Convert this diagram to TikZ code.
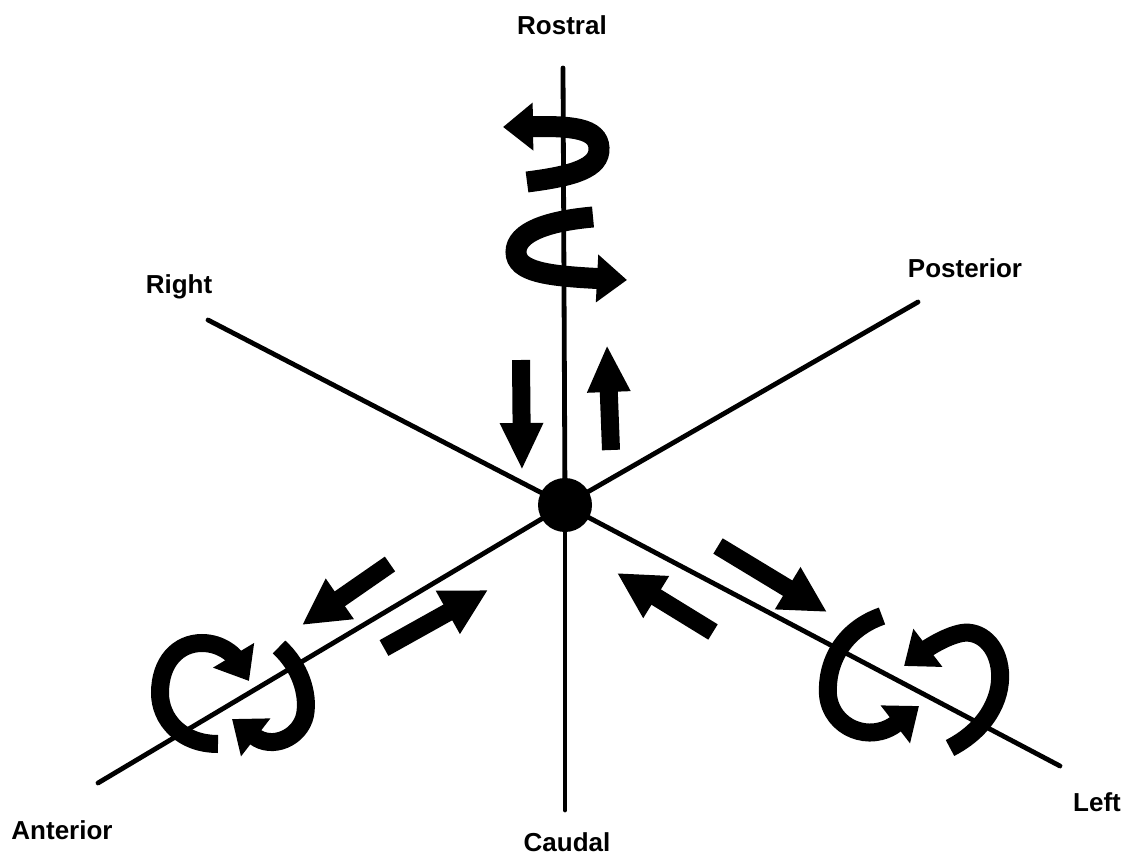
\documentclass[tikz,border=0pt]{standalone}
\usepackage{fontspec}
\setmainfont{Liberation Sans}
\usetikzlibrary{arrows.meta}
\begin{document}
\begin{tikzpicture}[x=1pt,y=-1pt,
  axis/.style={line width=4.8pt, line cap=round},
  lbl/.style={font=\fontsize{26}{30}\selectfont\bfseries, inner sep=0pt},
  vblock/.style={line width=18pt, -{Triangle[width=40pt,length=47pt]}},
  dblock/.style={line width=18pt, -{Triangle[width=46pt,length=46pt]}},
  twist/.style={line width=18pt, -{Triangle[width=46pt,length=30pt]}},
  spiral/.style={line width=21pt, -{Triangle[width=46pt,length=30pt]}},
  centerdot/.style={circle, fill=black, minimum size=54pt, inner sep=0pt},
]
\useasboundingbox[fill=white] (0,0) rectangle (1126,858);

% axis end points
\coordinate (rostralEnd) at (563,68);
\coordinate (caudalEnd) at (565,810);
\coordinate (rightEnd) at (208,320);
\coordinate (leftEnd) at (1060,766);
\coordinate (postEnd) at (918,302);
\coordinate (antEnd) at (98,783);

% centre
\node[centerdot] (O) at (565,505) {};

% axes
\draw[axis] (rostralEnd) -- (O.center);
\draw[axis] (O.center) -- (caudalEnd);
\draw[axis] (rightEnd) -- (O.center);
\draw[axis] (O.center) -- (leftEnd);
\draw[axis] (postEnd) -- (O.center);
\draw[axis] (O.center) -- (antEnd);

% labels
\node[lbl] (rostral) at (562,25) {Rostral};
\node[lbl] (caudal) at (567,842) {Caudal};
\node[lbl] (right) at (179,287) {Right};
\node[lbl] (posterior) at (965,268) {Posterior};
\node[lbl] (anterior) at (62,830) {Anterior};
\node[lbl] (left) at (1097,802) {Left};

% straight translation arrows
\coordinate (dT) at (521,360); \coordinate (dH) at (522,470);
\coordinate (uT) at (611,450); \coordinate (uH) at (607,345);
\coordinate (alT) at (390,564); \coordinate (alH) at (302,625);
\coordinate (arT) at (384,648); \coordinate (arH) at (488,590);
\coordinate (blT) at (713,632); \coordinate (blH) at (617,573);
\coordinate (brT) at (718,546); \coordinate (brH) at (827,612);
\draw[vblock] (dT) -- (dH);
\draw[vblock] (uT) -- (uH);
\draw[dblock] (alT) -- (alH);
\draw[dblock] (arT) -- (arH);
\draw[dblock] (blT) -- (blH);
\draw[dblock] (brT) -- (brH);

% rostral spiral (rotation about the rostro-caudal axis)
\coordinate (s1a) at (527,182); \coordinate (s1b) at (503,127);
\coordinate (s2a) at (593,217); \coordinate (s2b) at (627,280);
\draw[spiral] (s1a) .. controls (574,176) and (600,168) .. (599,148)
  .. controls (598,128) and (572,126) .. (s1b);
\draw[spiral] (s2a) .. controls (548,221) and (516,232) .. (516,252)
  .. controls (516,272) and (548,276) .. (s2b);

% rotation about the anterior axis
\coordinate (a1a) at (218,744); \coordinate (a1b) at (249,681);
\coordinate (a2a) at (279,647); \coordinate (a2b) at (232,719);
\draw[twist] (a1a) .. controls (182,744) and (160,720) .. (160,693)
  .. controls (160,662) and (178,643) .. (202,643)
  .. controls (222,643) and (234,656) .. (a1b);
\draw[twist] (a2a) .. controls (300,666) and (309,694) .. (305,715)
  .. controls (300,738) and (272,750) .. (a2b);

% rotation about the left axis
\coordinate (l1a) at (882,616); \coordinate (l1b) at (919,706);
\coordinate (l2a) at (950,748); \coordinate (l2b) at (904,666);
\draw[twist] (l1a) .. controls (842,630) and (826,664) .. (828,695)
  .. controls (831,728) and (870,744) .. (l1b);
\draw[twist] (l2a) .. controls (985,730) and (1002,700) .. (1000,672)
  .. controls (998,645) and (980,630) .. (962,633)
  .. controls (945,636) and (925,650) .. (l2b);
\end{tikzpicture}
\end{document}
